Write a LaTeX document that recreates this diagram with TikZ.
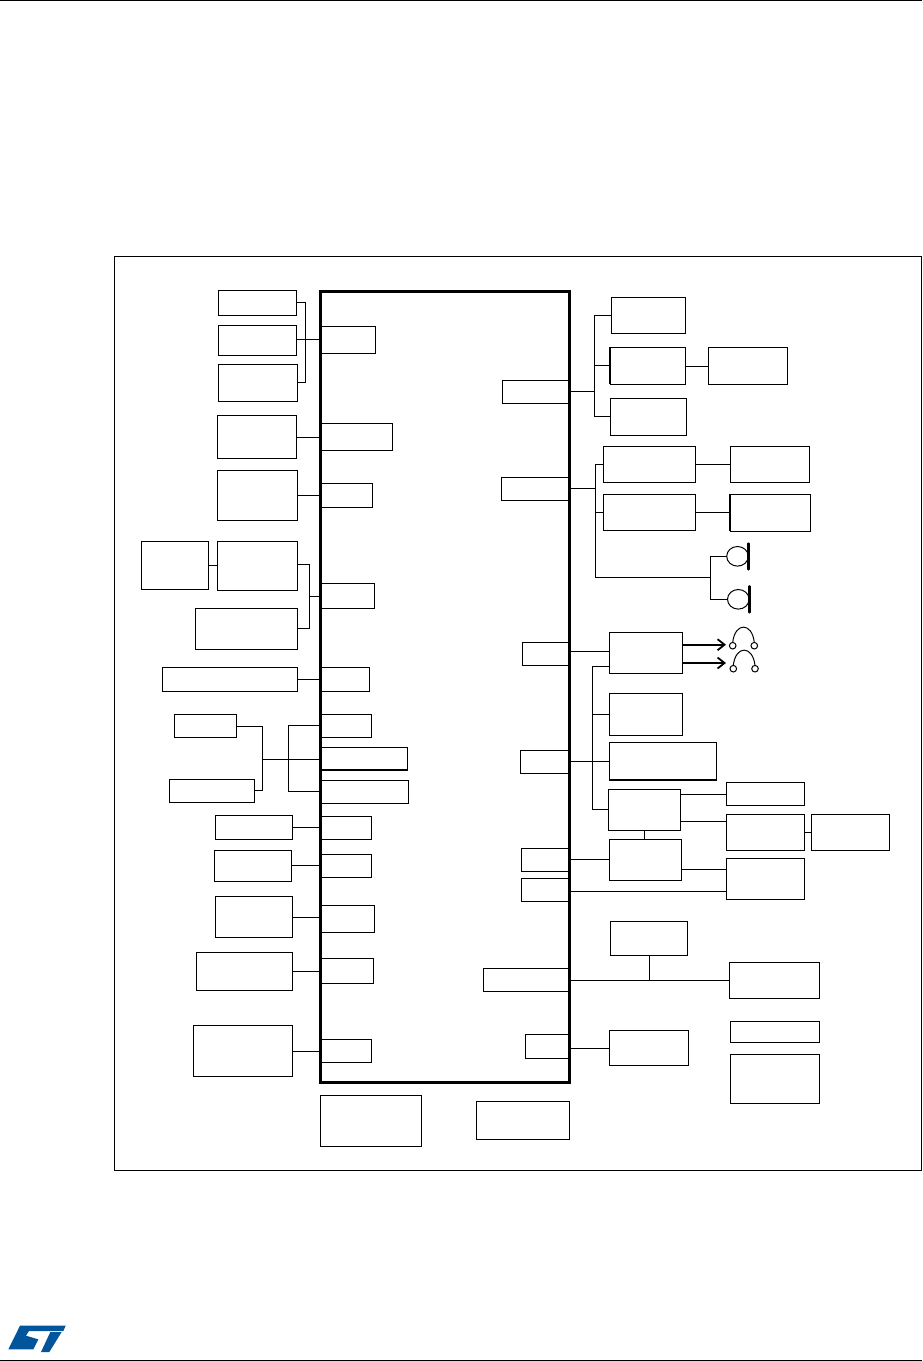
\documentclass[tikz,border=0pt]{standalone}
\usepackage{xcolor}
\usepackage{tikz}
\usetikzlibrary{arrows.meta, positioning, shapes.geometric}
\definecolor{stblue}{HTML}{03559B}

\begin{document}
\begin{tikzpicture}[x=1pt, y=-1pt, line width=1pt, >={Straight Barb[length=7pt,width=11pt]},
  blk/.style={draw, rectangle, anchor=north west, inner sep=0pt, outer sep=0pt},
  hub/.style={draw, ellipse, inner sep=0pt, outer sep=0pt, minimum width=21.6pt, minimum height=19.6pt},
  pin/.style={draw, circle, inner sep=0pt, outer sep=0pt, minimum size=6.6pt}]
  \useasboundingbox (0,0) rectangle (922,1361);
  \draw (0,0.5) -- (922,0.5);
  \draw (0,1360.5) -- (922,1360.5);
  \node[blk, minimum width=806.7pt, minimum height=914pt] (frame) at (114.3,256.3) {};

  \foreach \n/\xa/\ya/\xb/\yb in {
    L1/218.3/290.3/296.7/315.3, L2/218.3/325.3/296.7/355.3, L3/218.3/364.3/297.3/401.3,
    L4/217.3/415.3/296.7/458.3, L5/217.3/470.3/297.3/520.3, L6/141.3/541.3/208.3/589.3,
    L7/217.3/541.3/297.3/590.3, L8/195.3/608.3/297.3/649.3, L9/162.3/667.3/297.3/691.3,
    L10/174.3/714.3/236.3/737.3, L11/169.3/779.3/254.3/802.3, L12/215.3/815.3/292.3/839.3,
    L13/214.3/850.3/291.3/881.3, L14/215.3/896.3/292.3/937.3, L15/196.3/952.3/292.3/990.3,
    L16/193.3/1025.3/292.3/1076.3,
    A1/320.7/326.3/375.7/353.3, A2/320.7/423.3/392.3/450.3, A3/320.7/483.3/372.3/507.3,
    A4/320.7/583.3/374.3/608.3, A5/320.7/667.3/369.3/691.3, A6/320.7/714.3/371.3/737.3,
    A7/320.7/747.3/407.3/770.3, A8/320.7/780.3/408.3/803.3, A9/320.7/816.3/371.3/839.3,
    A10/320.7/854.3/371.3/877.3, A11/320.7/905.3/374.3/932.3, A12/320.7/958.3/373.3/983.3,
    A13/320.7/1039.3/371.3/1062.3,
    C1/502.3/380.3/569.3/403.3, C2/501.3/477.3/569.3/500.3, C3/522.3/642.3/569.3/665.3,
    C4/520.3/750.3/569.3/773.3, C5/521.3/848.3/569.3/871.3, C6/521.3/878.3/569.3/901.3,
    C7/483.3/968.3/569.3/991.3, C8/525.3/1034.3/569.3/1058.3,
    B1/320.3/1095.3/421.3/1146.3, B2/476.3/1101.3/569.3/1139.3,
    R1/611.3/297.3/685.3/333.3, R2/610.3/347.3/685.3/384.3, R3/708.3/347.3/787.3/384.3,
    R4/610.3/398.3/686.3/435.3, R5/603.3/446.3/695.3/482.3, R6/730.3/446.3/809.3/482.3,
    R7/603.3/494.3/695.3/530.3, R8/730.3/494.3/810.3/531.3, R9/609.3/632.3/682.3/673.3,
    R10/609.3/693.3/682.3/735.3, R11/609.3/742.3/716.3/780.3, R12/608.3/789.3/680.3/830.3,
    R13/726.3/782.3/804.3/805.3, R14/726.3/814.3/804.3/850.3, R15/811.3/814.3/889.3/850.3,
    R16/609.3/839.3/681.3/880.3, R17/726.3/858.3/804.3/899.3, R18/610.3/921.3/687.3/955.3,
    R19/729.3/962.3/819.3/998.3, R20/609.3/1030.3/688.3/1065.3, R21/730.3/1021.3/819.3/1042.3,
    R22/730.3/1054.3/819.3/1103.3}
    \node[blk, minimum width={(\xb-\xa)*1pt}, minimum height={(\yb-\ya)*1pt}] (\n) at (\xa,\ya) {};

  \node[blk, line width=3pt, minimum width=248.6pt, minimum height=790.6pt] (chip) at (320.7,291.7) {};

  \draw[line width=1.8pt] (R2.north west) -- (R2.south west);
  \draw[line width=1.8pt] (R8.north west) -- (R8.south west);
  \draw[line width=1.8pt] (A7.south west) -- (A7.south east);
  \draw[line width=1.8pt] (R11.south west) -- (R11.south east);

  \coordinate (busa) at (305.3,339.3);
  \coordinate (busb) at (309.3,596.3);
  \coordinate (busc) at (262.3,759.3);
  \coordinate (busd) at (288.3,759.3);
  \coordinate (buse) at (594.3,391.3);
  \coordinate (busf) at (595.3,488.3);
  \coordinate (busg) at (710.3,577.3);
  \coordinate (bush) at (592.3,761.3);
  \coordinate (busi) at (649.3,980.3);

  \draw (L1.east |- 0,302.3) -| (busa) |- (L3.east |- 0,382.7);
  \draw (L2.east |- busa) -- (chip.west |- busa);
  \draw (L4.east |- 0,437.3) -- (chip.west |- 0,437.3);
  \draw (L5.east |- 0,495.3) -- (chip.west |- 0,495.3);
  \draw (L6.east |- 0,565.3) -- (L7.west |- 0,565.3);
  \draw (L7.east |- 0,564.3) -| (busb) |- (L8.east |- 0,628.3);
  \draw (busb) -- (chip.west |- busb);
  \draw (L9.east |- 0,679.3) -- (chip.west |- 0,679.3);
  \draw (L10.east |- 0,726.3) -| (busc) |- (L11.east |- 0,790.3);
  \draw (busc) -- (chip.west |- busc);
  \draw (chip.west |- 0,725.3) -| (busd) |- (chip.west |- 0,791.3);
  \draw (L12.east |- 0,827.3) -- (chip.west |- 0,827.3);
  \draw (L13.east |- 0,865.7) -- (chip.west |- 0,865.7);
  \draw (L14.east |- 0,917.3) -- (chip.west |- 0,917.3);
  \draw (L15.east |- 0,971.3) -- (chip.west |- 0,971.3);
  \draw (L16.east |- 0,1051) -- (chip.west |- 0,1051);

  \draw (chip.east |- buse) -- (buse);
  \draw (R1.west |- 0,315) -| (buse) |- (R4.west |- 0,416.3);
  \draw (buse |- 0,365.3) -- (R2.west |- 0,365.3);
  \draw (R2.east |- 0,366.3) -- (R3.west |- 0,366.3);

  \draw (chip.east |- busf) -- (busf);
  \draw (R5.west |- 0,464) -| (busf) |- (busg);
  \draw (busf |- 0,512.3) -- (R7.west |- 0,512.3);
  \draw (R5.east |- 0,464) -- (R6.west |- 0,464);
  \draw (R7.east |- 0,512.3) -- (R8.west |- 0,512.3);

  \node[hub] (mica) at (737.5,556.3) {};
  \node[hub] (micb) at (738.3,599.3) {};
  \draw (mica.west) -| (busg) |- (micb.west);
  \draw[line width=2.4pt, line cap=round] (748.3,543.5) -- (748.3,569.3);
  \draw[line width=2.4pt, line cap=round] (749.3,586.3) -- (749.3,612.3);

  \draw (chip.east |- 0,651.7) -- (R9.west |- 0,651.7);
  \draw (R9.west |- 0,666.7) -| (bush |- 0,666.7) -- (bush |- 0,809.3) -- (R12.west |- 0,809.3);
  \draw (bush |- 0,714.3) -- (R10.west |- 0,714.3);
  \draw (chip.east |- bush) -- (R11.west |- bush);

  \node[pin] (pina) at (732.7,645.7) {};
  \node[pin] (pinb) at (754.3,645.7) {};
  \node[pin] (pinc) at (733.3,668.7) {};
  \node[pin] (pind) at (755,668.7) {};
  \draw[->, line width=1.8pt] (R9.east |- 0,644.7) -- (726,644.7);
  \draw[->, line width=1.8pt] (R9.east |- 0,663) -- (726,663);
  \draw (pina.north) .. controls (735,622) and (752,622) .. (pinb.north);
  \draw (pinc.north) .. controls (735.6,645) and (752.7,645) .. (pind.north);

  \draw (R12.east |- 0,794.3) -- (R13.west |- 0,794.3);
  \draw (R12.east |- 0,821.3) -- (R14.west |- 0,821.3);
  \draw (R14.east |- 0,832.3) -- (R15.west |- 0,832.3);
  \draw (R12.south -| 644.3,0) -- (R16.north -| 644.3,0);
  \draw (chip.east |- 0,859.3) -- (R16.west |- 0,859.3);
  \draw (R16.east |- 0,869.3) -- (R17.west |- 0,869.3);
  \draw (chip.east |- 0,891.3) -- (R17.west |- 0,891.3);

  \draw (R18.south -| busi) -- (busi);
  \draw (chip.east |- busi) -- (R19.west |- busi);
  \draw (chip.east |- 0,1048.3) -- (R20.west |- 0,1048.3);

  \begin{scope}[shift={(5,1320)}, x=0.3333pt, y=-0.3333pt]
    \fill[stblue] (45,17) -- (182,17) -- (175,33) -- (72,33) -- (63,47) -- (100,58) -- (85,88)
      -- (10,88) -- cycle;
    \fill[stblue] (136,36) -- (170,36) -- (133,96) -- (108,96) -- cycle;
  \end{scope}
\end{tikzpicture}
\end{document}
